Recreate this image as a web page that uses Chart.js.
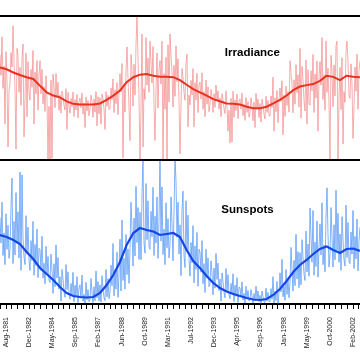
<!DOCTYPE html>
<html><head><meta charset="utf-8">
<script src="https://cdn.jsdelivr.net/npm/chart.js@4.4.1/dist/chart.umd.min.js"></script>
<style>html,body{margin:0;padding:0;background:#fff;} #wrap{width:360px;height:360px;position:relative;}</style>
</head><body><div id="wrap"><canvas id="c"></canvas></div>
<script>
// x values are days counted from mid-Aug-1981; one tick label every 500 days
const tickLabels = ['Aug-1981','Dec-1982','May-1984','Sep-1985','Feb-1987','Jun-1988','Oct-1989','Mar-1991',
  'Jul-1992','Dec-1993','Apr-1995','Sep-1996','Jan-1998','May-1999','Oct-2000','Feb-2002'];
const tickLabelStepDays = 500;
const minorTickStepDays = 125;
const panelTitles = ['Irradiance', 'Sunspots'];
const sampleStartDay = -130;
const noisyStepDays = 21.614;
const smoothStepDays = 144.07;
const axisMinDay = -130, axisMaxDay = 7651;

const irradianceDaily = [
  1366.93,1366.35,1367.42,1365.99,1366.61,1365.00,1367.01,1366.17,1364.36,1365.90,
  1366.15,1366.98,1366.58,1367.73,1366.74,1365.97,1364.30,1367.10,1366.90,1365.88,
  1366.57,1365.52,1366.81,1367.22,1364.64,1365.70,1366.97,1365.20,1366.73,1365.88,
  1365.66,1366.52,1366.02,1367.04,1365.00,1366.44,1365.84,1366.76,1365.39,1366.36,
  1366.76,1365.84,1366.52,1365.56,1366.04,1365.35,1366.34,1365.70,1364.02,1365.49,
  1364.02,1366.22,1364.05,1366.39,1366.04,1365.45,1366.40,1365.73,1366.16,1365.38,
  1365.81,1365.30,1365.91,1365.77,1365.52,1365.39,1365.98,1364.85,1365.88,1365.48,
  1365.30,1365.71,1365.48,1365.89,1365.21,1365.68,1365.39,1365.82,1365.17,1365.64,
  1365.72,1365.45,1365.86,1365.27,1365.58,1364.90,1365.75,1365.36,1365.65,1365.23,
  1365.42,1365.80,1365.62,1365.19,1365.69,1365.33,1365.90,1364.95,1365.76,1365.28,
  1365.73,1365.00,1365.83,1365.69,1365.44,1364.85,1365.90,1365.49,1365.80,1365.40,
  1365.44,1366.00,1365.68,1366.25,1365.32,1365.95,1365.56,1366.15,1365.26,1365.90,
  1366.40,1365.89,1366.68,1364.05,1366.12,1365.33,1366.47,1367.14,1366.26,1365.49,
  1364.54,1366.93,1366.48,1365.50,1366.66,1365.80,1367.20,1367.97,1366.84,1365.70,
  1364.02,1365.48,1367.50,1364.36,1365.98,1365.68,1367.40,1366.08,1366.83,1365.88,
  1367.30,1366.70,1366.14,1367.15,1365.54,1364.54,1365.94,1366.97,1365.44,1366.52,
  1366.76,1366.11,1367.30,1364.02,1366.40,1365.41,1366.85,1364.02,1367.20,1365.61,
  1367.50,1366.90,1366.45,1365.47,1366.63,1365.77,1367.17,1366.17,1366.81,1365.67,
  1364.17,1365.52,1366.54,1366.28,1365.87,1365.66,1366.67,1366.94,1364.92,1365.80,
  1365.53,1366.21,1365.81,1366.54,1364.92,1366.15,1365.67,1366.41,1365.32,1366.08,
  1366.16,1365.69,1366.42,1365.41,1365.90,1365.20,1366.22,1365.55,1366.03,1365.34,
  1365.55,1365.96,1365.76,1365.32,1365.84,1365.46,1366.08,1365.64,1365.92,1365.41,
  1365.72,1365.20,1365.84,1365.68,1365.42,1365.29,1365.92,1365.47,1364.80,1365.38,
  1364.47,1365.71,1364.50,1365.91,1365.19,1365.67,1365.37,1365.83,1365.15,1365.63,
  1365.70,1365.41,1365.86,1365.23,1365.54,1365.10,1365.74,1365.32,1365.62,1365.19,
  1365.32,1365.73,1365.53,1365.09,1365.61,1364.90,1365.85,1365.41,1365.69,1365.18,
  1365.57,1365.05,1365.69,1365.53,1365.27,1365.14,1365.77,1365.32,1365.65,1365.23,
  1365.22,1365.78,1365.46,1366.30,1364.80,1365.73,1365.34,1365.93,1365.04,1365.68,
  1366.00,1365.63,1366.20,1364.70,1365.80,1365.21,1366.05,1365.51,1365.90,1365.33,
  1366.76,1366.44,1366.09,1365.31,1366.23,1365.55,1366.65,1365.87,1366.37,1365.47,
  1367.10,1365.16,1366.60,1366.24,1365.66,1365.36,1366.78,1365.00,1366.51,1365.56,
  1365.52,1366.48,1365.92,1366.93,1365.32,1366.39,1365.72,1366.75,1364.80,1366.30,
  1366.73,1366.08,1367.40,1365.68,1366.37,1365.38,1367.30,1365.88,1366.55,1365.58,
  1364.02,1366.91,1366.46,1365.48,1366.64,1365.78,1367.18,1367.30,1364.02,1365.68,
  1366.57,1365.40,1366.84,1364.44,1365.90,1365.60,1367.02,1367.30,1366.75,1365.80,
  1365.71,1366.67,1366.11,1364.60,1365.51,1366.58,1365.91,1366.94,1365.41,1366.49,
  1366.76
];
const irradianceSmooth = [
  1366.57,1366.52,1366.43,1366.36,1366.30,1366.25,1366.06,1365.88,1365.79,1365.74,
  1365.63,1365.56,1365.54,1365.54,1365.54,1365.57,1365.67,1365.79,1365.93,
  1366.16,1366.30,1366.37,1366.39,1366.34,1366.31,1366.31,1366.30,1366.22,1366.09,
  1365.97,1365.88,1365.79,1365.69,1365.63,1365.57,1365.56,1365.54,
  1365.48,1365.44,1365.44,1365.48,1365.57,1365.67,1365.79,1365.94,1366.04,1366.08,
  1366.11,1366.20,1366.34,1366.31,1366.22,1366.34,1366.31,1366.30
];
const sunspotsDaily = [
  180,127,212,101,148,82,188,114,164,95,
  114,202,262,84,172,102,232,126,192,96,
  275,70,269,136,98,82,184,104,160,92,
  70,132,90,172,60,124,80,156,55,116,
  113,70,141,54,85,42,120,62,99,50,
  45,104,71,22,84,36,123,54,97,31,
  57,6,72,52,26,14,82,30,67,22,
  10,43,20,66,5,39,15,57,3,34,
  40,12,60,6,20,2,45,9,30,5,
  10,53,25,3,36,7,69,13,47,6,
  40,4,59,33,13,7,72,15,53,11,
  24,81,38,126,17,72,31,108,14,63,
  135,27,175,49,95,31,145,61,115,43,
  114,212,157,79,179,100,245,128,201,93,
  191,92,227,305,127,106,251,134,215,120,
  114,193,140,243,101,183,127,223,95,173,
  310,131,244,103,156,82,211,117,178,96,
  125,223,168,90,190,305,256,139,212,104,
  165,59,195,235,101,76,215,110,185,93,
  58,128,86,163,44,121,72,149,37,114,
  108,66,132,42,84,24,114,54,96,36,
  42,90,65,19,75,33,105,51,85,28,
  52,6,65,47,24,13,74,27,61,20,
  11,43,22,63,5,39,16,55,3,35,
  34,15,46,8,22,2,37,11,28,6,
  8,30,17,2,22,6,37,11,27,5,
  18,1,27,15,5,3,33,6,24,5,
  5,32,10,57,2,27,7,47,1,22,
  65,25,93,15,37,8,72,20,51,13,
  45,118,73,27,91,38,145,52,109,34,
  107,40,134,98,62,49,152,67,125,58,
  200,140,87,195,60,129,78,173,56,118,
  167,102,211,82,123,67,178,242,145,77,
  102,201,141,77,165,92,237,112,189,87,
  146,70,182,134,92,79,206,97,170,88,
  84,150,104,195,74,141,94,177,69,132,
  160
];
const sunspotsSmooth = [
  143.8,139.6,133.3,125.0,108.3,93.8,75.0,62.5,50.0,35.4,
  22.9,16.7,14.6,13.5,14.6,22.9,39.6,60.4,87.5,122.9,
  147.9,158.3,154.2,151.0,143.8,145.8,147.9,139.6,112.5,89.6,
  75.0,58.3,43.8,33.3,26.0,20.8,16.7,12.5,9.4,8.3,
  10.4,18.8,31.3,47.9,66.7,81.3,91.7,104.2,114.6,119.8,
  112.5,106.3,114.6,115.6,110.4
];

function toPoints(values, step) {
  return values.map((v, i) => ({ x: sampleStartDay + i * step, y: v }));
}

const framePlugin = {
  id: 'framePlugin',
  afterDatasetsDraw(chart) {
    const { ctx, chartArea, scales } = chart;
    const yT = scales.yIrr, yS = scales.ySun;
    const top = Math.min(yT.top, yS.top);
    const mid = Math.max(yT.top, yS.top);
    ctx.save();
    ctx.strokeStyle = '#000';
    ctx.lineWidth = 2;
    [top, mid].forEach(y => {
      ctx.beginPath(); ctx.moveTo(0, y); ctx.lineTo(chart.width, y); ctx.stroke();
    });
    ctx.fillStyle = '#000';
    ctx.font = 'bold 11.5px "Liberation Sans", Arial, sans-serif';
    ctx.textAlign = 'center';
    ctx.textBaseline = 'middle';
    ctx.fillText(panelTitles[0], chartArea.left + chartArea.width * 0.701, yT.top + yT.height * 0.257);
    ctx.fillText(panelTitles[1], chartArea.left + chartArea.width * 0.6875, yS.top + yS.height * 0.347);
    ctx.restore();
  }
};

new Chart(document.getElementById('c'), {
  type: 'line',
  data: {
    datasets: [
      { label: 'Irradiance smoothed', data: toPoints(irradianceSmooth, smoothStepDays), yAxisID: 'yIrr',
        borderColor: '#e8321e', borderWidth: 2, order: 0 },
      { label: 'Irradiance', data: toPoints(irradianceDaily, noisyStepDays), yAxisID: 'yIrr',
        borderColor: 'rgba(240,125,125,0.62)', borderWidth: 1, order: 1 },
      { label: 'Sunspots smoothed', data: toPoints(sunspotsSmooth, smoothStepDays), yAxisID: 'ySun',
        borderColor: '#1446e6', borderWidth: 2.2, order: 0 },
      { label: 'Sunspots', data: toPoints(sunspotsDaily, noisyStepDays), yAxisID: 'ySun',
        borderColor: 'rgba(75,145,245,0.7)', borderWidth: 1, order: 1 }
    ]
  },
  options: {
    responsive: true,
    maintainAspectRatio: false,
    animation: false,
    layout: { padding: { top: 16, left: 0, right: 0, bottom: 0 } },
    elements: { point: { radius: 0 }, line: { tension: 0 } },
    plugins: { legend: { display: false }, tooltip: { enabled: false } },
    scales: {
      x: {
        type: 'linear', position: 'bottom', min: axisMinDay, max: axisMaxDay,
        afterBuildTicks(scale) {
          const t = [];
          for (let v = -minorTickStepDays; v <= axisMaxDay; v += minorTickStepDays) {
            if (v >= axisMinDay) t.push({ value: v });
          }
          scale.ticks = t;
        },
        afterFit(scale) { scale.height = 56; scale.paddingLeft = 0; scale.paddingRight = 0; },
        ticks: {
          autoSkip: false, minRotation: 90, maxRotation: 90, padding: 8,
          color: '#222', font: { family: '"Liberation Sans", Arial, sans-serif', size: 7 },
          callback: (v) => (v >= 0 && v % tickLabelStepDays === 0) ? (tickLabels[v / tickLabelStepDays] || '') : ''
        },
        grid: { drawOnChartArea: false, drawTicks: true, tickLength: 5, color: '#000', lineWidth: 1 },
        border: { display: true, color: '#000', width: 2 }
      },
      ySun: { type: 'linear', position: 'left', min: 0, max: 300, display: false, stack: 'panels', stackWeight: 1 },
      yIrr: { type: 'linear', position: 'left', min: 1364, max: 1368, display: false, stack: 'panels', stackWeight: 1 }
    }
  },
  plugins: [framePlugin]
});
</script>
</body></html>
